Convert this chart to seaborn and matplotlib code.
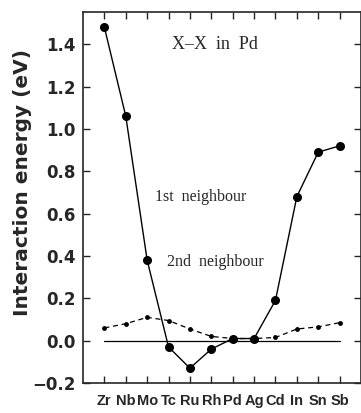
import numpy as np
import pandas as pd
import matplotlib
matplotlib.use('Agg')
import matplotlib.pyplot as plt
import seaborn as sns

# ── data ─────────────────────────────────────────────────────
elements = ['Zr', 'Nb', 'Mo', 'Tc', 'Ru', 'Rh', 'Pd', 'Ag', 'Cd', 'In', 'Sn', 'Sb']
first_nb = [1.48, 1.06, 0.38, -0.03, -0.13, -0.04, 0.01, 0.01, 0.19, 0.68, 0.89, 0.92]
second_nb = [0.06, 0.08, 0.11, 0.095, 0.055, 0.02, 0.01, 0.01, 0.015, 0.055, 0.065, 0.085]
baseline = [0.0] * len(elements)
yticks = [-0.2, 0.0, 0.2, 0.4, 0.6, 0.8, 1.0, 1.2, 1.4]

df = pd.DataFrame({'pos': np.arange(len(elements)), 'el': elements,
                   'first': first_nb, 'second': second_nb, 'zero': baseline})

sns.set_style('ticks')
plt.rcParams['font.family'] = ['DejaVu Sans']

fig = plt.figure(figsize=(3.61, 4.13), dpi=100)
ax = fig.add_axes([83 / 361, 30 / 413, 278 / 361, 371 / 413])

sns.lineplot(data=df, x='pos', y='zero', ax=ax, color='black', lw=0.9)
sns.lineplot(data=df, x='pos', y='second', ax=ax, color='black', lw=0.9,
             linestyle=(0, (4, 3)), marker='o', markersize=3.5, markeredgewidth=0)
sns.lineplot(data=df, x='pos', y='first', ax=ax, color='black', lw=1.0,
             marker='o', markersize=6.5, markeredgewidth=0)

ax.set_xlim(-1, 12)
ax.set_ylim(-0.2, 1.552)
ax.set_xticks(df['pos'])
ax.set_xticklabels(elements, fontsize=10.5, fontweight='bold',
                   family=['Liberation Sans Narrow', 'Liberation Sans'])
ax.set_yticks(yticks)
ax.set_yticklabels([f'{v:.1f}'.replace('-', '\u2212') for v in yticks],
                   fontsize=12, fontweight='bold')
ax.tick_params(direction='in', top=True, right=True, length=5, width=1)
ax.tick_params(axis='x', pad=8)
ax.tick_params(axis='y', pad=5)
for s in ax.spines.values():
    s.set_linewidth(1.2)

ax.set_xlabel('')
ax.set_ylabel('Interaction energy (eV)', fontsize=14.5, fontweight='bold')
ax.yaxis.set_label_coords(-0.185, 0.54)

serif = ['Liberation Serif', 'DejaVu Serif']
ax.text(5.15, 1.4, 'X\u2013X  in  Pd', family=serif, fontsize=13, ha='center', va='center')
ax.text(4.5, 0.68, '1st  neighbour', family=serif, fontsize=11.5, ha='center', va='center')
ax.text(5.2, 0.37, '2nd  neighbour', family=serif, fontsize=11.5, ha='center', va='center')

fig.savefig('out.png', dpi=100)
